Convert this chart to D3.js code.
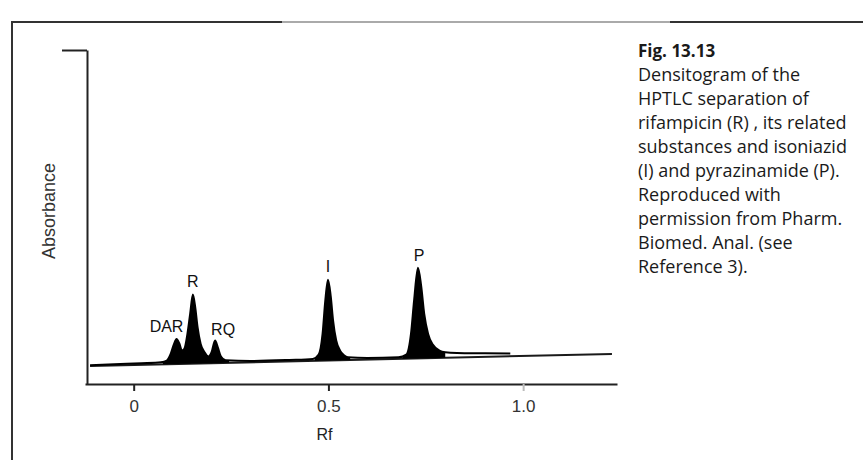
<html>

<head>
  <script src="https://d3js.org/d3.v7.min.js"></script>
  <style>
    body { margin: 0; background: #fff; }
    text { font-family: "Liberation Sans", Arial, sans-serif; }
    .caption text { font-family: "Open Sans", "Noto Sans", sans-serif; }
  </style>
</head>

<body>
  <svg id="chart" width="863" height="460"></svg>

  <script>
    // densitogram trace (Rf vs absorbance, arbitrary units)
    const traceRf = [-0.112, -0.05, 0.02, 0.07, 0.085, 0.095, 0.103, 0.110, 0.117, 0.124,
      0.130, 0.138, 0.145, 0.152, 0.158, 0.164, 0.172, 0.182, 0.192, 0.200,
      0.209, 0.216, 0.224, 0.236, 0.30, 0.40, 0.46, 0.475, 0.485, 0.492,
      0.499, 0.506, 0.512, 0.520, 0.530, 0.540, 0.550, 0.60, 0.68, 0.700,
      0.712, 0.720, 0.730, 0.738, 0.746, 0.756, 0.768, 0.785, 0.800, 0.83,
      0.90, 0.967];
    const traceAbs = [0.056, 0.059, 0.062, 0.065, 0.070, 0.090, 0.118, 0.135, 0.122, 0.100,
      0.105, 0.150, 0.210, 0.268, 0.230, 0.170, 0.120, 0.095, 0.082, 0.095,
      0.130, 0.110, 0.082, 0.071, 0.069, 0.072, 0.075, 0.088, 0.150, 0.250,
      0.312, 0.262, 0.190, 0.130, 0.100, 0.086, 0.080, 0.078, 0.080, 0.088,
      0.150, 0.250, 0.348, 0.295, 0.210, 0.150, 0.118, 0.100, 0.095, 0.093,
      0.092, 0.091];

    // straight baseline drawn under the trace
    const baselineRf = [-0.112, 1.228];
    const baselineAbs = [0.054, 0.090];

    // Rf ranges of the peak groups that are filled black
    const peakGroups = [[0.075, 0.245], [0.465, 0.556], [0.690, 0.800]];

    // peak labels
    const peakNames = ["DAR", "R", "RQ", "I", "P"];
    const peakRf = [0.110, 0.152, 0.209, 0.499, 0.730];
    const peakAbs = [0.135, 0.268, 0.130, 0.312, 0.348];

    const xTicks = [0, 0.5, 1];
    const xTickLabels = ["0", "0.5", "1.0"];

    const captionTitle = "Fig. 13.13";
    const captionLines = [
      "Densitogram of the",
      "HPTLC separation of",
      "rifampicin (R) , its related",
      "substances and isoniazid",
      "(I) and pyrazinamide (P).",
      "Reproduced with",
      "permission from Pharm.",
      "Biomed. Anal. (see",
      "Reference 3)."
    ];

    const svg = d3.select("svg#chart");

    // page frame
    svg.append("line").attr("x1", 12).attr("x2", 282).attr("y1", 22).attr("y2", 22)
      .attr("stroke", "#333").attr("stroke-width", 2);
    svg.append("line").attr("x1", 282).attr("x2", 670).attr("y1", 22).attr("y2", 22)
      .attr("stroke", "#aaa").attr("stroke-width", 2);
    svg.append("line").attr("x1", 670).attr("x2", 863).attr("y1", 22).attr("y2", 22)
      .attr("stroke", "#333").attr("stroke-width", 2);
    svg.append("line").attr("x1", 12).attr("x2", 12).attr("y1", 21).attr("y2", 460)
      .attr("stroke", "#333").attr("stroke-width", 2);

    const xScale = d3.scaleLinear().domain([-0.125, 1.241]).range([85, 617]);
    const yScale = d3.scaleLinear().domain([0, 1]).range([384, 50]);
    const baseAt = d3.scaleLinear().domain(baselineRf).range(baselineAbs);

    const trace = traceRf.map((rf, i) => ({ rf: rf, abs: traceAbs[i] }));

    // axes
    const bottomAxis = d3.axisBottom(xScale)
      .tickValues(xTicks)
      .tickFormat((d, i) => xTickLabels[i])
      .tickSize(7)
      .tickSizeOuter(0)
      .tickPadding(9);
    const xAxis = svg.append("g")
      .attr("class", "x axis")
      .attr("transform", "translate(0, 384)")
      .call(bottomAxis);
    xAxis.select(".domain").attr("stroke", "#222").attr("stroke-width", 2);
    xAxis.selectAll(".tick line").attr("stroke", d => d === 1 ? "#bbb" : "#222").attr("stroke-width", 2);
    xAxis.selectAll(".tick text")
      .attr("font-size", 17)
      .attr("fill", "#333")
      .style("font-family", "'Liberation Sans', Arial, sans-serif");

    const leftAxis = d3.axisLeft(yScale)
      .tickValues([1])
      .tickFormat("")
      .tickSize(25)
      .tickSizeOuter(0);
    const yAxis = svg.append("g")
      .attr("class", "y axis")
      .attr("transform", "translate(87, 0)")
      .call(leftAxis);
    yAxis.select(".domain").attr("stroke", "#222").attr("stroke-width", 2);
    yAxis.selectAll(".tick line").attr("stroke", "#222").attr("stroke-width", 2);

    svg.append("text")
      .attr("text-anchor", "middle")
      .attr("font-size", 16)
      .attr("fill", "#222")
      .attr("x", xScale(0.5) - 4)
      .attr("y", 440)
      .text("Rf");

    svg.append("text")
      .attr("text-anchor", "middle")
      .attr("font-size", 18)
      .attr("fill", "#333")
      .attr("transform", "translate(55, 211) rotate(-90)")
      .text("Absorbance");

    // clip so that only the peak groups get filled
    const clip = svg.append("defs").append("clipPath").attr("id", "peaks");
    clip.selectAll("rect")
      .data(peakGroups)
      .join("rect")
      .attr("x", d => xScale(d[0]))
      .attr("width", d => xScale(d[1]) - xScale(d[0]))
      .attr("y", 0)
      .attr("height", 460);

    // baseline
    svg.append("path")
      .datum(baselineRf.map((rf, i) => ({ rf: rf, abs: baselineAbs[i] })))
      .attr("fill", "none")
      .attr("stroke", "#1a1a1a")
      .attr("stroke-width", 2)
      .attr("d", d3.line().x(d => xScale(d.rf)).y(d => yScale(d.abs)));

    // filled peaks between trace and baseline
    const area = d3.area()
      .x(d => xScale(d.rf))
      .y0(d => yScale(baseAt(d.rf)))
      .y1(d => yScale(d.abs))
      .curve(d3.curveMonotoneX);
    svg.append("path")
      .datum(trace)
      .attr("fill", "#000")
      .attr("clip-path", "url(#peaks)")
      .attr("d", area);

    const line = d3.line()
      .x(d => xScale(d.rf))
      .y(d => yScale(d.abs))
      .curve(d3.curveMonotoneX);
    svg.append("path")
      .datum(trace)
      .attr("fill", "none")
      .attr("stroke", "#000")
      .attr("stroke-width", 2)
      .attr("d", line);

    // peak names, nudged off the peak tips
    const labelDx = [-10, 0, 8, 0, 1];
    const labelDy = [-7, -7, -6, -8, -7];
    svg.append("g")
      .selectAll("text")
      .data(peakNames)
      .join("text")
      .attr("text-anchor", "middle")
      .attr("font-size", 16)
      .attr("fill", "#111")
      .attr("x", (d, i) => xScale(peakRf[i]) + labelDx[i])
      .attr("y", (d, i) => yScale(peakAbs[i]) + labelDy[i])
      .text(d => d);

    // caption
    const caption = svg.append("g").attr("class", "caption");
    caption.append("text")
      .attr("x", 638)
      .attr("y", 57)
      .attr("font-size", 17)
      .attr("font-weight", "bold")
      .attr("fill", "#1a1a1a")
      .text(captionTitle);
    caption.selectAll("text.line")
      .data(captionLines)
      .join("text")
      .attr("class", "line")
      .attr("x", 638)
      .attr("y", (d, i) => 81 + i * 24)
      .attr("font-size", 18)
      .attr("fill", "#1a1a1a")
      .text(d => d);
  </script>

</body>

</html>
